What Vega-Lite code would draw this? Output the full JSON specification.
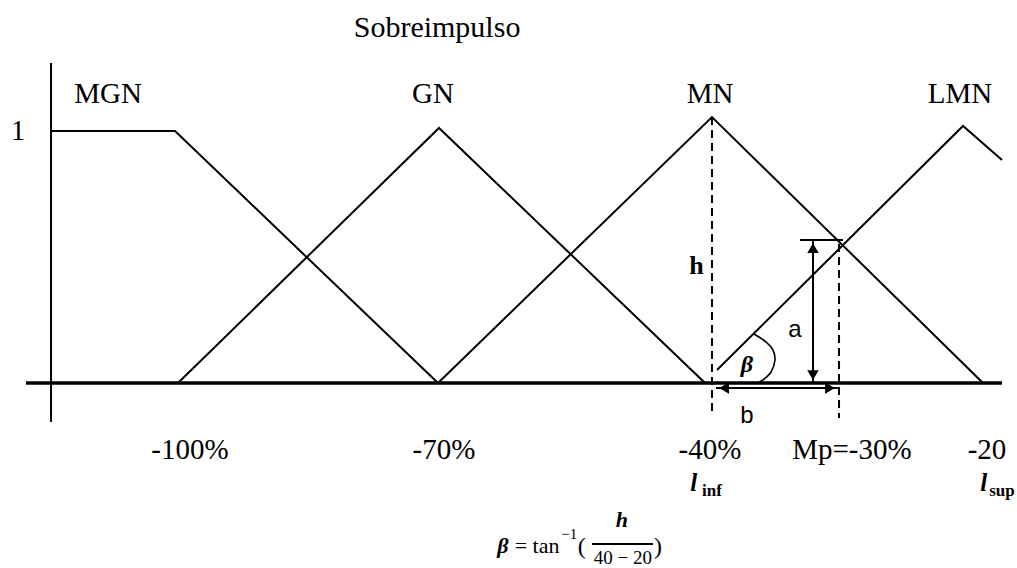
{
  "$schema": "https://vega.github.io/schema/vega-lite/v6.json",
  "width": 1017,
  "height": 568,
  "autosize": {"type": "none"},
  "padding": 0,
  "background": "white",
  "config": {"view": {"stroke": null}},
  "datasets": {
    "lines": [
      {"g": "MGN", "o": 1, "x": -114.28, "y": 0.988},
      {"g": "MGN", "o": 2, "x": -100.38, "y": 0.988},
      {"g": "MGN", "o": 3, "x": -70.90, "y": 0},
      {"g": "GN", "o": 1, "x": -100.05, "y": 0},
      {"g": "GN", "o": 2, "x": -70.79, "y": 1.0},
      {"g": "GN", "o": 3, "x": -40.97, "y": 0},
      {"g": "MN", "o": 1, "x": -70.90, "y": 0},
      {"g": "MN", "o": 2, "x": -40.19, "y": 1.043},
      {"g": "MN", "o": 3, "x": -9.81, "y": 0},
      {"g": "LMN", "o": 1, "x": -39.63, "y": 0.051},
      {"g": "LMN", "o": 2, "x": -12.05, "y": 1.008},
      {"g": "LMN", "o": 3, "x": -7.68, "y": 0.875},
      {"g": "yaxis", "o": 1, "x": -114.28, "y": 1.255},
      {"g": "yaxis", "o": 2, "x": -114.28, "y": -0.153},
      {"g": "abar", "o": 1, "x": -30.32, "y": 0.561},
      {"g": "abar", "o": 2, "x": -25.50, "y": 0.561},
      {"g": "aarrow", "o": 1, "x": -28.87, "y": 0.561},
      {"g": "aarrow", "o": 2, "x": -28.87, "y": 0.0},
      {"g": "barrow", "o": 1, "x": -39.74, "y": -0.020},
      {"g": "barrow", "o": 2, "x": -26.07, "y": -0.020},
      {"g": "frac", "o": 1, "x": -53.64, "y": -0.631},
      {"g": "frac", "o": 2, "x": -46.80, "y": -0.631}
    ],
    "xaxis": [
      {"g": "xaxis", "o": 1, "x": -117.09, "y": 0},
      {"g": "xaxis", "o": 2, "x": -7.68, "y": 0}
    ],
    "dashed": [
      {"g": "d1", "o": 1, "x": -40.19, "y": 1.043},
      {"g": "d1", "o": 2, "x": -40.19, "y": -0.125},
      {"g": "d2", "o": 1, "x": -25.95, "y": 0.545},
      {"g": "d2", "o": 2, "x": -25.95, "y": -0.137}
    ],
    "arc": [
      {"o": 1, "x": -35.48, "y": 0.192},
      {"o": 2, "x": -34.14, "y": 0.161},
      {"o": 3, "x": -33.35, "y": 0.129},
      {"o": 4, "x": -33.13, "y": 0.090},
      {"o": 5, "x": -33.57, "y": 0.043},
      {"o": 6, "x": -34.47, "y": 0.012},
      {"o": 7, "x": -35.14, "y": 0.0}
    ],
    "heads": [
      {"x": -28.87, "y": 0.529, "shape": "triangle-up"},
      {"x": -28.87, "y": 0.031, "shape": "triangle-down"},
      {"x": -38.84, "y": -0.020, "shape": "triangle-left"},
      {"x": -26.96, "y": -0.020, "shape": "triangle-right"}
    ],
    "serif": [
      {"t": "Sobreimpulso", "x": -71.01, "y": 1.392, "s": 30},
      {"t": "MGN", "x": -107.89, "y": 1.133, "s": 29},
      {"t": "GN", "x": -71.46, "y": 1.133, "s": 29},
      {"t": "MN", "x": -40.41, "y": 1.133, "s": 29},
      {"t": "LMN", "x": -12.39, "y": 1.133, "s": 29},
      {"t": "1", "x": -117.98, "y": 0.988, "s": 29},
      {"t": "-100%", "x": -98.70, "y": -0.263, "s": 29},
      {"t": "-70%", "x": -70.23, "y": -0.263, "s": 29},
      {"t": "-40%", "x": -40.41, "y": -0.263, "s": 29},
      {"t": "Mp=-30%", "x": -24.50, "y": -0.263, "s": 29},
      {"t": "-20", "x": -9.36, "y": -0.263, "s": 29},
      {"t": "= tan", "x": -59.80, "y": -0.641, "s": 22},
      {"t": "−1", "x": -56.20, "y": -0.592, "s": 15},
      {"t": "(", "x": -54.80, "y": -0.643, "s": 24},
      {"t": ")", "x": -46.24, "y": -0.643, "s": 24},
      {"t": "40 − 20", "x": -50.17, "y": -0.688, "s": 19}
    ],
    "italic": [
      {"t": "l", "x": -42.23, "y": -0.392, "s": 25},
      {"t": "l", "x": -9.73, "y": -0.392, "s": 25},
      {"t": "β", "x": -36.27, "y": 0.071, "s": 24},
      {"t": "β", "x": -63.62, "y": -0.638, "s": 22},
      {"t": "h", "x": -50.28, "y": -0.537, "s": 22}
    ],
    "bold": [
      {"t": "inf", "x": -40.19, "y": -0.422, "s": 17},
      {"t": "sup", "x": -7.68, "y": -0.422, "s": 17},
      {"t": "h", "x": -41.94, "y": 0.459, "s": 26}
    ],
    "sans": [
      {"t": "a", "x": -30.88, "y": 0.208, "s": 24},
      {"t": "b", "x": -36.27, "y": -0.129, "s": 24}
    ]
  },
  "layer": [
    {
      "data": {"name": "lines"},
      "mark": {"type": "line", "color": "black", "strokeWidth": 2},
      "encoding": {
        "x": {"field": "x", "type": "quantitative", "scale": {"domain": [-120, -6], "nice": false, "zero": false}, "axis": null},
        "y": {"field": "y", "type": "quantitative", "scale": {"domain": [-0.7255, 1.502], "nice": false, "zero": false}, "axis": null},
        "detail": {"field": "g"},
        "order": {"field": "o"}
      }
    },
    {
      "data": {"name": "xaxis"},
      "mark": {"type": "line", "color": "black", "strokeWidth": 3.5},
      "encoding": {
        "x": {"field": "x", "type": "quantitative", "scale": {"domain": [-120, -6], "nice": false, "zero": false}, "axis": null},
        "y": {"field": "y", "type": "quantitative", "scale": {"domain": [-0.7255, 1.502], "nice": false, "zero": false}, "axis": null},
        "detail": {"field": "g"},
        "order": {"field": "o"}
      }
    },
    {
      "data": {"name": "dashed"},
      "mark": {"type": "line", "color": "black", "strokeWidth": 2, "strokeDash": [8, 5]},
      "encoding": {
        "x": {"field": "x", "type": "quantitative", "scale": {"domain": [-120, -6], "nice": false, "zero": false}, "axis": null},
        "y": {"field": "y", "type": "quantitative", "scale": {"domain": [-0.7255, 1.502], "nice": false, "zero": false}, "axis": null},
        "detail": {"field": "g"},
        "order": {"field": "o"}
      }
    },
    {
      "data": {"name": "arc"},
      "mark": {"type": "line", "color": "black", "strokeWidth": 1.6, "interpolate": "cardinal"},
      "encoding": {
        "x": {"field": "x", "type": "quantitative", "scale": {"domain": [-120, -6], "nice": false, "zero": false}, "axis": null},
        "y": {"field": "y", "type": "quantitative", "scale": {"domain": [-0.7255, 1.502], "nice": false, "zero": false}, "axis": null},
        "order": {"field": "o"}
      }
    },
    {
      "data": {"name": "heads"},
      "mark": {"type": "point", "filled": true, "color": "black", "opacity": 1, "size": 130},
      "encoding": {
        "x": {"field": "x", "type": "quantitative", "scale": {"domain": [-120, -6], "nice": false, "zero": false}, "axis": null},
        "y": {"field": "y", "type": "quantitative", "scale": {"domain": [-0.7255, 1.502], "nice": false, "zero": false}, "axis": null},
        "shape": {"field": "shape", "type": "nominal", "scale": null}
      }
    },
    {
      "data": {"name": "serif"},
      "mark": {"type": "text", "font": "Liberation Serif", "color": "black", "align": "center", "baseline": "middle"},
      "encoding": {
        "x": {"field": "x", "type": "quantitative", "scale": {"domain": [-120, -6], "nice": false, "zero": false}, "axis": null},
        "y": {"field": "y", "type": "quantitative", "scale": {"domain": [-0.7255, 1.502], "nice": false, "zero": false}, "axis": null},
        "text": {"field": "t"},
        "size": {"field": "s", "type": "quantitative", "scale": null}
      }
    },
    {
      "data": {"name": "italic"},
      "mark": {"type": "text", "font": "Liberation Serif", "fontStyle": "italic", "fontWeight": "bold", "color": "black", "align": "center", "baseline": "middle"},
      "encoding": {
        "x": {"field": "x", "type": "quantitative", "scale": {"domain": [-120, -6], "nice": false, "zero": false}, "axis": null},
        "y": {"field": "y", "type": "quantitative", "scale": {"domain": [-0.7255, 1.502], "nice": false, "zero": false}, "axis": null},
        "text": {"field": "t"},
        "size": {"field": "s", "type": "quantitative", "scale": null}
      }
    },
    {
      "data": {"name": "bold"},
      "mark": {"type": "text", "font": "Liberation Serif", "fontWeight": "bold", "color": "black", "align": "center", "baseline": "middle"},
      "encoding": {
        "x": {"field": "x", "type": "quantitative", "scale": {"domain": [-120, -6], "nice": false, "zero": false}, "axis": null},
        "y": {"field": "y", "type": "quantitative", "scale": {"domain": [-0.7255, 1.502], "nice": false, "zero": false}, "axis": null},
        "text": {"field": "t"},
        "size": {"field": "s", "type": "quantitative", "scale": null}
      }
    },
    {
      "data": {"name": "sans"},
      "mark": {"type": "text", "font": "Liberation Sans", "color": "black", "align": "center", "baseline": "middle"},
      "encoding": {
        "x": {"field": "x", "type": "quantitative", "scale": {"domain": [-120, -6], "nice": false, "zero": false}, "axis": null},
        "y": {"field": "y", "type": "quantitative", "scale": {"domain": [-0.7255, 1.502], "nice": false, "zero": false}, "axis": null},
        "text": {"field": "t"},
        "size": {"field": "s", "type": "quantitative", "scale": null}
      }
    }
  ]
}
